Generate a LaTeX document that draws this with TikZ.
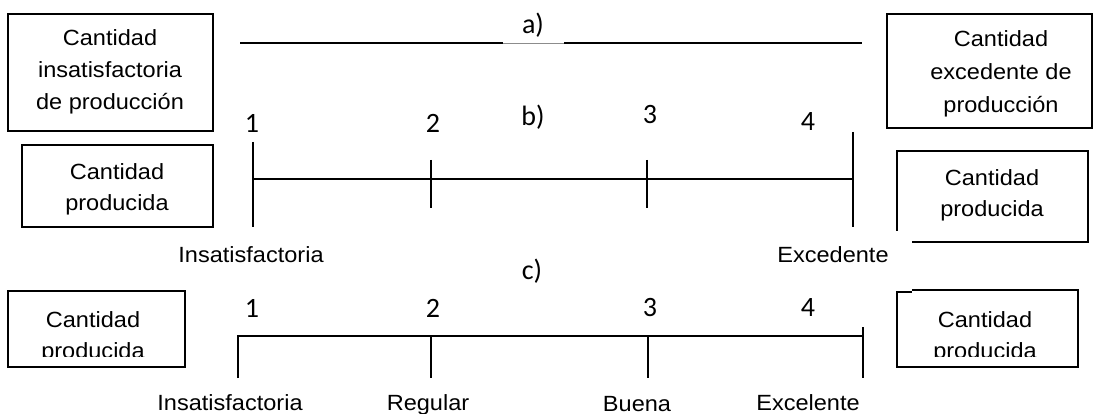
\documentclass[tikz,border=0pt]{standalone}
\usepackage{fontspec}
\setmainfont{Liberation Sans}[FakeStretch=1.07]
\newfontfamily\numfont{Carlito}
\begin{document}
\begin{tikzpicture}[x=1pt,y=-1pt,
  box/.style={draw=black,line width=1.5pt},
  scale line/.style={draw=black,line width=1.6pt},
  txt/.style={font=\fontsize{22}{32}\selectfont,inner sep=0pt,align=center},
  num/.style={font=\numfont\fontsize{28}{32}\selectfont,inner sep=0pt}]
\useasboundingbox (0,0) rectangle (1094,414);
\fill[white] (0,0) rectangle (1094,414);

% ---- a) extremes of production
\draw[box] (8,14) rectangle (213,131);
\node[txt] (a-left) at (110,72) {Cantidad\\insatisfactoria\\de producción};
\draw[box] (887,14) rectangle (1092,128);
\node[txt,font=\fontsize{22}{33}\selectfont] (a-right) at (1001,74) {Cantidad\\excedente de\\producción};
\node[num] (a-lab) at (533,25) {a)};
\coordinate (a-start) at (240,43);
\coordinate (a-gap1) at (503,43);
\coordinate (a-gap2) at (564,43);
\coordinate (a-end) at (862,43);
\draw[scale line] (a-start) -- (a-gap1);
\draw[black!45,line width=0.8pt] (a-gap1) -- (a-gap2);
\draw[scale line] (a-gap2) -- (a-end);

% ---- b) two-level scale
\node[num] (b-n1) at (252,123) {1};
\node[num] (b-n2) at (433,123) {2};
\node[num] (b-lab) at (533,117) {b)};
\node[num] (b-n3) at (650,115) {3};
\node[num] (b-n4) at (808,122) {4};
\draw[box] (22,145) rectangle (213,227);
\node[txt,font=\fontsize{22}{31}\selectfont] (b-left) at (117,189) {Cantidad\\producida};
\draw[box] (897,151) rectangle (1088,242);
\fill[white] (890,231) rectangle (912,250);
\node[txt,font=\fontsize{22}{31}\selectfont] (b-right) at (992,195) {Cantidad\\producida};
\coordinate (b1t) at (253,142); \coordinate (b1b) at (253,227);
\coordinate (b2t) at (431,160); \coordinate (b2b) at (431,208);
\coordinate (b3t) at (647,160); \coordinate (b3b) at (647,208);
\coordinate (b4t) at (853,132); \coordinate (b4b) at (853,227);
\draw[scale line] (b1t |- 0,179) -- (b4t |- 0,179);
\draw[scale line] (b1t) -- (b1b);
\draw[scale line] (b2t) -- (b2b);
\draw[scale line] (b3t) -- (b3b);
\draw[scale line] (b4t) -- (b4b);
\node[txt,anchor=base] (b-low) at (251,262) {Insatisfactoria};
\node[txt,anchor=base] (b-high) at (833,262) {Excedente};

% ---- c) four-level scale
\node[num,anchor=base] (c-lab) at (532,279) {c)};
\node[num] (c-n1) at (252,308) {1};
\node[num] (c-n2) at (433,308) {2};
\node[num] (c-n3) at (650,308) {3};
\node[num] (c-n4) at (808,308) {4};
\draw[box] (8,291) rectangle (185,367);
\begin{scope}
  \clip (8,291) rectangle (185,356);
  \node[txt,anchor=base] (c-left1) at (93,327) {Cantidad};
  \node[txt,anchor=base] (c-left2) at (93,358) {producida};
\end{scope}
\draw[box] (912,290) -- (1078,290) -- (1078,367) -- (897,367) -- (897,292) -- (912,292);
\begin{scope}
  \clip (897,291) rectangle (1078,356);
  \node[txt,anchor=base] (c-right1) at (985,327) {Cantidad};
  \node[txt,anchor=base] (c-right2) at (985,358) {producida};
\end{scope}
\coordinate (c1) at (238,336); \coordinate (c1b) at (238,378);
\coordinate (c2) at (431,336); \coordinate (c2b) at (431,378);
\coordinate (c3) at (648,336); \coordinate (c3b) at (648,378);
\coordinate (c4) at (863,336); \coordinate (c4t) at (863,327); \coordinate (c4b) at (863,378);
\draw[scale line] (c1b) -- (c1) -- (c4);
\draw[scale line] (c2) -- (c2b);
\draw[scale line] (c3) -- (c3b);
\draw[scale line] (c4t) -- (c4b);
\node[txt,anchor=base] (c-l1) at (230,410) {Insatisfactoria};
\node[txt,anchor=base] (c-l2) at (428,410) {Regular};
\node[txt,anchor=base] (c-l3) at (637,411) {Buena};
\node[txt,anchor=base] (c-l4) at (808,410) {Excelente};
\end{tikzpicture}
\end{document}
